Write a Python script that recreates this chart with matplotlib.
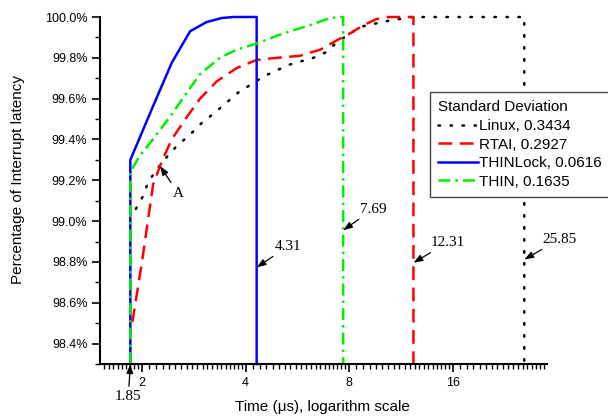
import numpy as np
import matplotlib
matplotlib.use('Agg')
import matplotlib.pyplot as plt
from matplotlib.ticker import FixedLocator, FuncFormatter, MultipleLocator

plt.rcParams['font.family'] = ['Liberation Sans', 'DejaVu Sans']

# ---------------- data (time in us, cumulative percentage) ----------------
linux_x = [1.92, 2.01, 2.085, 2.20, 2.35, 2.53, 2.745, 2.98, 3.25, 3.81, 4.53,
           5.33, 6.30, 6.81, 7.37, 8.06, 8.80, 10.3, 12.2, 25.85, 25.85]
linux_y = [99.06, 99.12, 99.19, 99.25, 99.31, 99.37, 99.42, 99.48, 99.53, 99.63, 99.71,
           99.765, 99.80, 99.825, 99.875, 99.92, 99.955, 99.98, 100.0, 100.0, 98.30]

rtai_x = [1.875, 2.00, 2.155, 2.28, 2.44, 2.70, 2.95, 3.30, 3.77, 4.31, 4.93,
          5.76, 6.59, 7.45, 8.06, 8.80, 9.63, 10.3, 12.31, 12.31]
rtai_y = [98.505, 98.80, 99.18, 99.29, 99.40, 99.51, 99.60, 99.685, 99.75, 99.79, 99.80,
          99.81, 99.84, 99.89, 99.92, 99.96, 99.99, 100.0, 100.0, 98.30]

thinlock_x = [1.85, 1.85, 2.15, 2.44, 2.76, 3.08, 3.41, 3.69, 4.31, 4.31]
thinlock_y = [98.30, 99.30, 99.56, 99.775, 99.93, 99.975, 99.995, 100.0, 100.0, 98.30]

thin_x = [1.85, 1.85, 1.97, 2.15, 2.41, 2.70, 2.95, 3.37, 3.77, 4.31, 5.15,
          6.16, 7.04, 7.69, 7.69]
thin_y = [98.30, 99.24, 99.32, 99.40, 99.51, 99.63, 99.72, 99.80, 99.84, 99.87, 99.92,
          99.96, 99.995, 100.0, 98.30]

labels = ['Linux, 0.3434', 'RTAI, 0.2927', 'THINLock, 0.0616', 'THIN, 0.1635']

# max latency markers: (value, arrow tip y, text offset in pixels)
marks = [('4.31', 4.31, 98.773, (31, 21)),
         ('7.69', 7.69, 98.955, (30, 21)),
         ('12.31', 12.31, 98.796, (34, 20)),
         ('25.85', 25.85, 98.812, (35, 20))]

xmajor = [2, 4, 8, 16]

# ---------------- figure ----------------
fig = plt.figure(figsize=(6.08, 4.16), dpi=100)
ax = fig.add_axes([100/608, 52/416, 447/608, 347/416])

lw = 1.8
ax.plot(linux_x, linux_y, color='black', lw=lw, ls=(0, (0.6, 4.2)),
        dash_capstyle='round', clip_on=False, label=labels[0])
ax.plot(rtai_x, rtai_y, color='red', lw=lw, ls=(0, (5.5, 3)),
        clip_on=False, label=labels[1])
ax.plot(thinlock_x, thinlock_y, color='blue', lw=lw, ls='-',
        clip_on=False, label=labels[2])
ax.plot(thin_x, thin_y, color='#00ee00', lw=lw, ls=(0, (4.8, 2, 1, 2)),
        clip_on=False, label=labels[3])

ax.set_xscale('log', base=2)
ax.set_xlim(1.51, 30.1)
ax.set_ylim(98.30, 100.0)

# ticks
ax.xaxis.set_major_locator(FixedLocator(xmajor))
ax.xaxis.set_major_formatter(FuncFormatter(lambda v, p: '%d' % v))
minor = np.concatenate([np.arange(1.55, 1.99, 0.05), np.arange(2.1, 3.99, 0.1),
                        np.arange(4.2, 7.99, 0.2), np.arange(8.4, 15.99, 0.4),
                        np.arange(16.8, 30.0, 0.8)])
ax.xaxis.set_minor_locator(FixedLocator(minor))
ax.xaxis.set_minor_formatter(FuncFormatter(lambda v, p: ''))

ax.yaxis.set_major_locator(MultipleLocator(0.2))
ax.yaxis.set_minor_locator(MultipleLocator(0.1))
ax.yaxis.set_major_formatter(FuncFormatter(lambda v, p: '%.1f%%' % v))

ax.tick_params(which='major', direction='out', length=6, width=1.2, labelsize=9, pad=3)
ax.tick_params(which='minor', direction='out', length=3.5, width=1.0)

for s in ['top', 'right']:
    ax.spines[s].set_visible(False)
for s in ['left', 'bottom']:
    ax.spines[s].set_linewidth(1.5)

ax.set_xlabel('Time (\u03bcs), logarithm scale', fontsize=11)
ax.set_ylabel('Percentage of Interrupt latency', fontsize=11)
ax.xaxis.set_label_coords(0.497, -0.103)
ax.yaxis.set_label_coords(-0.167, 0.533)

# annotations
serif = dict(family='Liberation Serif', size=11)
arrow = dict(arrowstyle='-|>,head_length=0.5,head_width=0.18', color='black',
             lw=0.9, shrinkA=1, shrinkB=0)
for txt, x, y, off in marks:
    ax.annotate(txt, xy=(x, y), xytext=off, textcoords='offset pixels',
                ha='center', va='center', arrowprops=arrow, **serif)

ax.annotate('A', xy=(2.256, 99.27), xytext=(18, -27), textcoords='offset pixels',
            ha='center', va='center', arrowprops=arrow, **serif)
ax.annotate('1.85', xy=(1.85, 98.30), xytext=(-2, -33), textcoords='offset pixels',
            ha='center', va='center', arrowprops=arrow,
            annotation_clip=False, **serif)

leg = ax.legend(loc='upper left', bbox_to_anchor=(430/608, 1 - 92/416),
                bbox_transform=fig.transFigure, title='Standard Deviation',
                alignment='left', fancybox=False, edgecolor='#444444', framealpha=1,
                fontsize=11, title_fontsize=11, borderpad=0.55, handlelength=2.6,
                handletextpad=0.05, labelspacing=0.3, borderaxespad=0)
leg.get_frame().set_linewidth(1.0)

fig.savefig('out.png', dpi=100)
